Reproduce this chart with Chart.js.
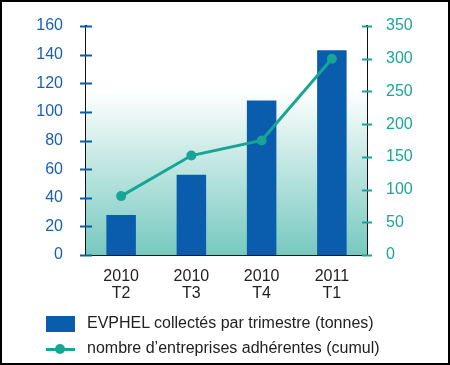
<!DOCTYPE html>
<html>
<head>
<meta charset="utf-8">
<script src="https://cdn.jsdelivr.net/npm/chart.js@4"></script>
<style>
  body { margin: 0; background: #fff; }
  #wrap { position: relative; width: 450px; height: 365px; font-family: "Liberation Sans", Arial, sans-serif; }
  #frame { position: absolute; left: 0; top: 0; width: 450px; height: 365px; box-sizing: border-box; border: 2px solid #000; pointer-events: none; }
  canvas { position: absolute; left: 0; top: 0; }
  .lg { position: absolute; font-size: 16px; color: #222; white-space: nowrap; }
</style>
</head>
<body>
<div id="wrap">
  <canvas id="chart" width="450" height="365"></canvas>
  <div style="position:absolute;left:46px;top:316px;width:29px;height:16px;background:#0a5cad"></div>
  <div class="lg" style="left:87px;top:314px">EVPHEL collectés par trimestre (tonnes)</div>
  <div style="position:absolute;left:46px;top:348px;width:29px;height:3px;background:#17a596"></div>
  <div style="position:absolute;left:55px;top:344px;width:10px;height:10px;border-radius:50%;background:#17a596"></div>
  <div class="lg" style="left:87px;top:339px">nombre d’entreprises adhérentes (cumul)</div>
  <div id="frame"></div>
</div>
<script>
const categories = [["2010", "T2"], ["2010", "T3"], ["2010", "T4"], ["2011", "T1"]]
const tonnes = [28, 56, 108, 143]
const entreprises = [90, 152, 175, 300]
const leftTicks = [0, 20, 40, 60, 80, 100, 120, 140, 160]
const rightTicks = [0, 50, 100, 150, 200, 250, 300, 350]

const blue = "#0a5cad"
const teal = "#17a596"

// fond dégradé blanc -> turquoise dans la zone du graphique
const bgPlugin = {
    id: "bg",
    beforeDatasetsDraw(chart) {
        const { ctx, chartArea: a } = chart
        const g = ctx.createLinearGradient(0, a.top, 0, a.bottom)
        g.addColorStop(0, "#ffffff")
        g.addColorStop(0.28, "#ffffff")
        g.addColorStop(1, "#76c9bf")
        ctx.save()
        ctx.fillStyle = g
        ctx.fillRect(a.left, a.top, a.right - a.left, a.bottom - a.top)
        ctx.restore()
    },
}

// petits traits qui traversent les axes
const tickPlugin = {
    id: "crossTicks",
    afterDraw(chart) {
        const ctx = chart.ctx
        const y = chart.scales.y
        const y1 = chart.scales.y1
        ctx.save()
        ctx.lineWidth = 2
        ctx.strokeStyle = blue
        y.ticks.forEach((t) => {
            const p = Math.round(y.getPixelForValue(t.value)) + 0.5
            ctx.beginPath()
            ctx.moveTo(y.right - 6, p)
            ctx.lineTo(y.right + 6, p)
            ctx.stroke()
        })
        ctx.strokeStyle = teal
        y1.ticks.forEach((t) => {
            const p = Math.round(y1.getPixelForValue(t.value)) + 0.5
            ctx.beginPath()
            ctx.moveTo(y1.left - 5, p)
            ctx.lineTo(y1.left + 5, p)
            ctx.stroke()
        })
        ctx.restore()
    },
}

const ctx = document.getElementById("chart").getContext("2d")
new Chart(ctx, {
    data: {
        labels: categories,
        datasets: [
            {
                type: "line",
                data: entreprises,
                yAxisID: "y1",
                borderColor: teal,
                backgroundColor: teal,
                borderWidth: 3,
                pointRadius: 5,
                pointBackgroundColor: teal,
                pointBorderWidth: 0,
                order: 0,
            },
            {
                type: "bar",
                data: tonnes,
                yAxisID: "y",
                backgroundColor: blue,
                borderWidth: 0,
                barPercentage: 0.42,
                categoryPercentage: 1,
                order: 1,
            },
        ],
    },
    options: {
        responsive: false,
        animation: false,
        layout: { padding: { top: 26 } },
        plugins: {
            legend: { display: false },
            tooltip: { enabled: false },
        },
        scales: {
            x: {
                grid: { display: false },
                border: { display: true, color: "#111", width: 2 },
                ticks: {
                    color: "#222",
                    padding: 5,
                    font: { size: 16, family: "'Liberation Sans', Arial, sans-serif", lineHeight: 1.07 },
                },
                afterFit: (s) => { s.height = 110 },
            },
            y: {
                position: "left",
                min: 0,
                max: 160,
                afterBuildTicks: (s) => { s.ticks = leftTicks.map((v) => ({ value: v })) },
                grid: { display: false },
                border: { display: true, color: "#111", width: 2 },
                ticks: {
                    color: "#1a5fb0",
                    padding: 15,
                    font: { size: 16, family: "'Liberation Sans', Arial, sans-serif" },
                },
                afterFit: (s) => { s.width = 86 },
            },
            y1: {
                position: "right",
                min: 0,
                max: 350,
                afterBuildTicks: (s) => { s.ticks = rightTicks.map((v) => ({ value: v })) },
                grid: { display: false },
                border: { display: true, color: "#111", width: 2 },
                ticks: {
                    color: "#1aa797",
                    padding: 11,
                    font: { size: 16, family: "'Liberation Sans', Arial, sans-serif" },
                },
                afterFit: (s) => { s.width = 83 },
            },
        },
    },
    plugins: [bgPlugin, tickPlugin],
})
</script>
</body>
</html>
